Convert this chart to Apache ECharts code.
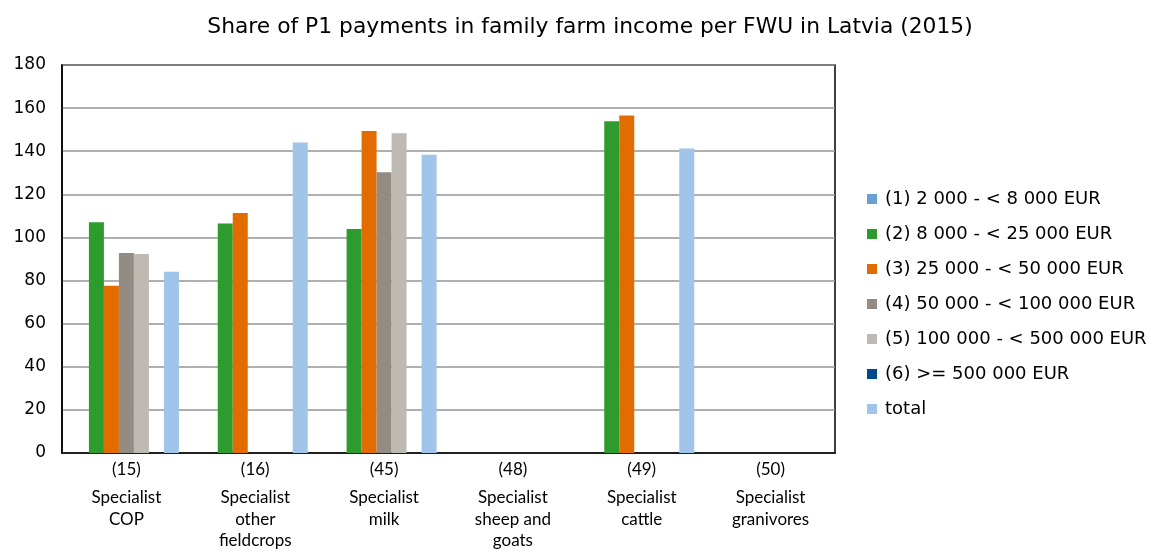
<!DOCTYPE html>
<html><head><meta charset="utf-8">
<script src="https://cdn.jsdelivr.net/npm/echarts@6/dist/echarts.min.js"></script>
<style>html,body{margin:0;padding:0;background:#fff}#c{width:1161px;height:553px}</style>
</head><body><div id="c"></div>
<script>
const categoryCodes = ["(15)", "(16)", "(45)", "(48)", "(49)", "(50)"];
const categoryNames = ["Specialist\nCOP", "Specialist\nother\nfieldcrops", "Specialist\nmilk", "Specialist\nsheep and\ngoats", "Specialist\ncattle", "Specialist\ngranivores"];
const seriesNames = ["(1) 2 000 - < 8 000 EUR", "(2) 8 000 - < 25 000 EUR", "(3) 25 000 - < 50 000 EUR", "(4) 50 000 - < 100 000 EUR", "(5) 100 000 - < 500 000 EUR", "(6) >= 500 000 EUR", "total"];
const s1 = [null, null, null, null, null, null];
const s2 = [107.0, 106.5, 103.9, null, 153.9, null];
const s3 = [77.6, 111.3, 149.4, null, 156.6, null];
const s4 = [92.8, null, 130.2, null, null, null];
const s5 = [92.3, null, 148.3, null, null, null];
const s6 = [null, null, null, null, null, null];
const sTotal = [84.1, 144.1, 138.4, null, 141.3, null];
const colors = ["#6A9FD4", "#2E9B2E", "#E36C00", "#948B83", "#BEBAB3", "#004A8C", "#A0C4EA"];
const yTicks = [0, 20, 40, 60, 80, 100, 120, 140, 160, 180];

const allData = [s1, s2, s3, s4, s5, s6, sTotal];
const chart = echarts.init(document.getElementById('c'));
const font = 'Verdana, "DejaVu Sans", sans-serif';
const narrow = 'Lato, "Liberation Sans", sans-serif';
chart.setOption({
  animation: false,
  color: colors,
  title: {
    text: "Share of P1 payments in family farm income per FWU in Latvia (2015)",
    left: 585, top: 11, textAlign: 'center',
    textStyle: {fontFamily: font, fontSize: 21.8, fontWeight: 'normal', color: '#000'}
  },
  legend: {
    orient: 'vertical', left: 862, top: 185, itemGap: 17,
    itemWidth: 10, itemHeight: 10, icon: 'rect',
    textStyle: {fontFamily: font, fontSize: 18, color: '#000', padding: [0,0,0,3]},
    data: seriesNames
  },
  grid: {left: 62, right: 326, top: 65, bottom: 100, show: true, borderColor: '#000', borderWidth: 1.5, containLabel: false},
  xAxis: {
    type: 'category', data: categoryCodes.map((c, i) => c + '\n' + categoryNames[i]),
    axisLine: {lineStyle: {color: '#000', width: 1.5}},
    axisTick: {show: false},
    axisLabel: {
      interval: 0, margin: 14, color: '#000',
      formatter: function (v) {
        const parts = v.split('\n');
        return '{a|' + parts[0] + '}\n' + parts.slice(1).map(p => '{b|' + p + '}').join('\n');
      },
      rich: {
        a: {fontFamily: narrow, fontSize: 17, lineHeight: 20, padding: [0,0,14,0], color: '#000'},
        b: {fontFamily: narrow, fontSize: 17, lineHeight: 21.5, color: '#000'}
      }
    }
  },
  yAxis: {
    type: 'value', min: 0, max: 180, interval: 20,
    axisLine: {show: true, lineStyle: {color: '#000', width: 1.5}},
    axisTick: {show: false},
    axisLabel: {fontFamily: font, fontSize: 17, color: '#000', margin: 16,
      formatter: v => yTicks.includes(v) ? String(v) : ''},
    splitLine: {lineStyle: {color: '#959595', width: 1.5}}
  },
  series: seriesNames.map((n, i) => ({
    name: n, type: 'bar', data: allData[i], barWidth: 15, barGap: '0%', barCategoryGap: '17%',
    itemStyle: {color: colors[i]}
  }))
});
</script></body></html>
